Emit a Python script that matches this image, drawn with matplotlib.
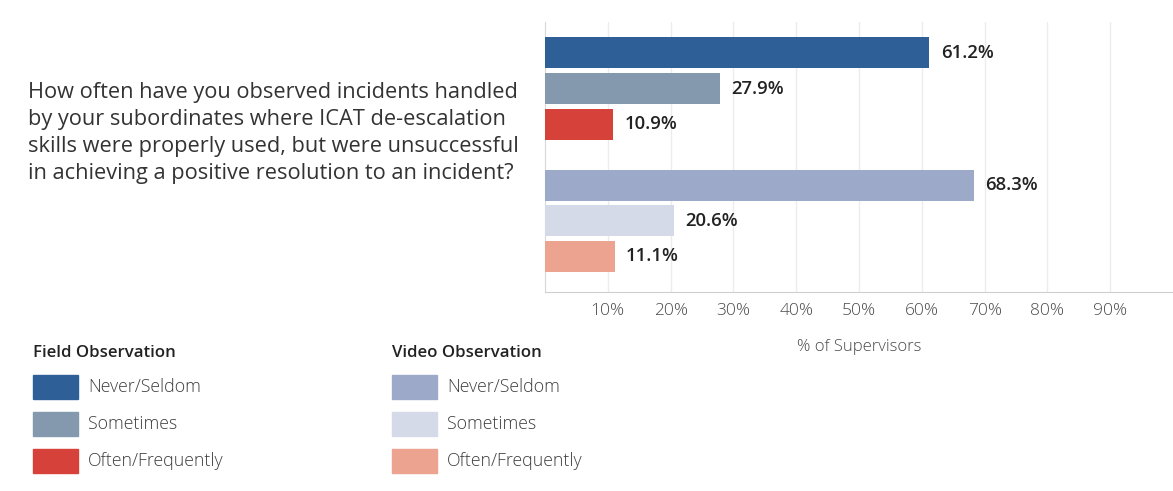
import matplotlib
matplotlib.use("Agg")
import matplotlib.pyplot as plt
from matplotlib.patches import Rectangle

plt.rcParams['font.family'] = ['Open Sans', 'DejaVu Sans']

categories = ["Never/Seldom", "Sometimes", "Often/Frequently"]
groups = ["Field Observation", "Video Observation"]
field_values = [61.2, 27.9, 10.9]
video_values = [68.3, 20.6, 11.1]
field_colors = ["#2e5f96", "#8499ad", "#d6423a"]
video_colors = ["#9ca9c8", "#d4dae7", "#eca390"]
xticks = [10, 20, 30, 40, 50, 60, 70, 80, 90]
xtick_labels = [f"{t}%" for t in xticks]
question = ("How often have you observed incidents handled\n"
            "by your subordinates where ICAT de-escalation\n"
            "skills were properly used, but were unsuccessful\n"
            "in achieving a positive resolution to an incident?")

W, H = 1173, 491
fig = plt.figure(figsize=(W / 100, H / 100), dpi=100)
ax = fig.add_axes([545 / W, 1 - 292 / H, (1173 - 545) / W, (292 - 22) / H])

pos_field = [0, 1, 2]
pos_video = [3.72, 4.72, 5.72]
ax.barh(pos_field, field_values, height=0.87, color=field_colors, zorder=3)
ax.barh(pos_video, video_values, height=0.87, color=video_colors, zorder=3)
for p, v in zip(pos_field + pos_video, field_values + video_values):
    ax.text(v + 1.8, p, f"{v}%", va="center", ha="left", fontsize=13.3,
            fontweight="semibold", color="#222222")

ax.set_xlim(0, 100)
ax.set_ylim(6.72, -0.87)
ax.set_xticks(xticks)
ax.set_xticklabels(xtick_labels, fontsize=12.5, color="#4a4a4a", fontweight="light")
ax.set_yticks([])
ax.tick_params(axis="x", length=0, pad=8)
ax.grid(axis="x", color="#ececec", linewidth=1, zorder=0)
for s in ["top", "right"]:
    ax.spines[s].set_visible(False)
ax.spines["left"].set_color("#d8d8d8")
ax.spines["bottom"].set_color("#cfcfcf")
ax.set_xlabel("% of Supervisors", fontsize=12, color="#4a4a4a", labelpad=14,
              fontweight="light")

fig.text(28 / W, 1 - 133 / H, question, fontsize=15.7, color="#333333",
         va="center", ha="left", linespacing=1.37)

def legend_block(x0, title, colors):
    fig.text(x0 / W, 1 - 353 / H, title, fontsize=12.1, fontweight="semibold",
             color="#222222", va="center", ha="left")
    for i, (c, lab) in enumerate(zip(colors, categories)):
        yc = 387 + i * 37
        fig.patches.append(Rectangle((x0 / W, 1 - (yc + 12) / H), 45 / W, 24 / H,
                                     transform=fig.transFigure, color=c))
        fig.text((x0 + 55) / W, 1 - yc / H, lab, fontsize=12.8, color="#3f3f3f",
                 va="center", ha="left", fontweight="light")

legend_block(33, groups[0], field_colors)
legend_block(392, groups[1], video_colors)

fig.savefig("out.png", dpi=100)
